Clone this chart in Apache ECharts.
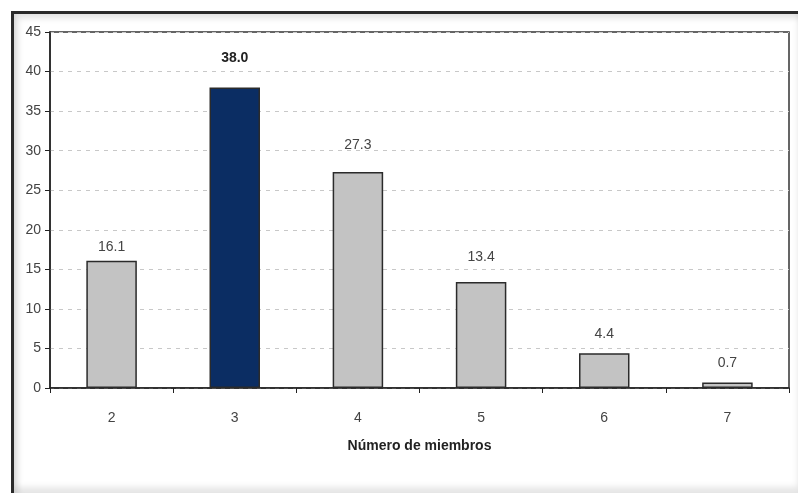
<!DOCTYPE html>
<html>
<head>
<meta charset="utf-8">
<script src="https://cdn.jsdelivr.net/npm/echarts@6/dist/echarts.min.js"></script>
<style>
  html, body { margin: 0; padding: 0; background: #fff; }
  #chart { width: 798px; height: 493px; }
  #frame {
    position: absolute; left: 11px; top: 11px; width: 787px; height: 482px;
    border-left: 3px solid #2a2a2a; border-top: 3px solid #2a2a2a;
    box-shadow: inset 4px 4px 6px rgba(0,0,0,0.12), inset 0 -6px 6px rgba(0,0,0,0.1);
    pointer-events: none; box-sizing: border-box;
  }
</style>
</head>
<body>
<div id="chart"></div>
<div id="frame"></div>
<script>
// data
const categories = ['2', '3', '4', '5', '6', '7'];
const values = [16.1, 38.0, 27.3, 13.4, 4.4, 0.7];
const highlightIndex = 1;
// gap between bar top and its label, as seen in the picture
const labelGaps = [6, 22, 20, 18, 12, 12];

const chart = echarts.init(document.getElementById('chart'));

const option = {
  animation: false,
  grid: {
    left: 50,
    right: 9,
    top: 32,
    bottom: 105,
    show: true,
    borderColor: '#333',
    borderWidth: 1.5,
  },
  xAxis: {
    type: 'category',
    data: categories,
    name: 'Número de miembros',
    nameLocation: 'middle',
    nameGap: 51,
    nameTextStyle: {
      fontFamily: 'Liberation Sans',
      fontSize: 14,
      fontWeight: 'bold',
      color: '#222',
    },
    axisLine: { lineStyle: { color: '#222', width: 1.5 } },
    axisTick: { show: true, length: 5, lineStyle: { color: '#222' } },
    axisLabel: {
      margin: 23,
      fontFamily: 'Liberation Sans',
      fontSize: 14,
      color: '#444',
    },
  },
  yAxis: {
    type: 'value',
    min: 0,
    max: 45,
    interval: 5,
    axisLine: { show: true, lineStyle: { color: '#222', width: 1.5 } },
    axisTick: { show: true, length: 5, lineStyle: { color: '#222' } },
    axisLabel: {
      margin: 9,
      fontFamily: 'Liberation Sans',
      fontSize: 14,
      color: '#444',
    },
    splitLine: {
      lineStyle: { color: '#c8c8c8', type: [4, 5], width: 1 },
    },
  },
  series: [
    {
      type: 'bar',
      barWidth: '41%',
      data: values.map((v, i) => ({
        value: v,
        itemStyle: {
          color: i === highlightIndex ? '#0b2d63' : '#c3c3c3',
          borderColor: '#2b2b2b',
          borderWidth: 1.5,
        },
        label: {
          fontWeight: i === highlightIndex ? 'bold' : 'normal',
          color: i === highlightIndex ? '#222' : '#444',
          distance: labelGaps[i],
        },
      })),
      label: {
        show: true,
        position: 'top',
        fontFamily: 'Liberation Sans',
        fontSize: 14,
        formatter: (p) => p.value.toFixed(1),
      },
    },
  ],
};

chart.setOption(option);
</script>
</body>
</html>
